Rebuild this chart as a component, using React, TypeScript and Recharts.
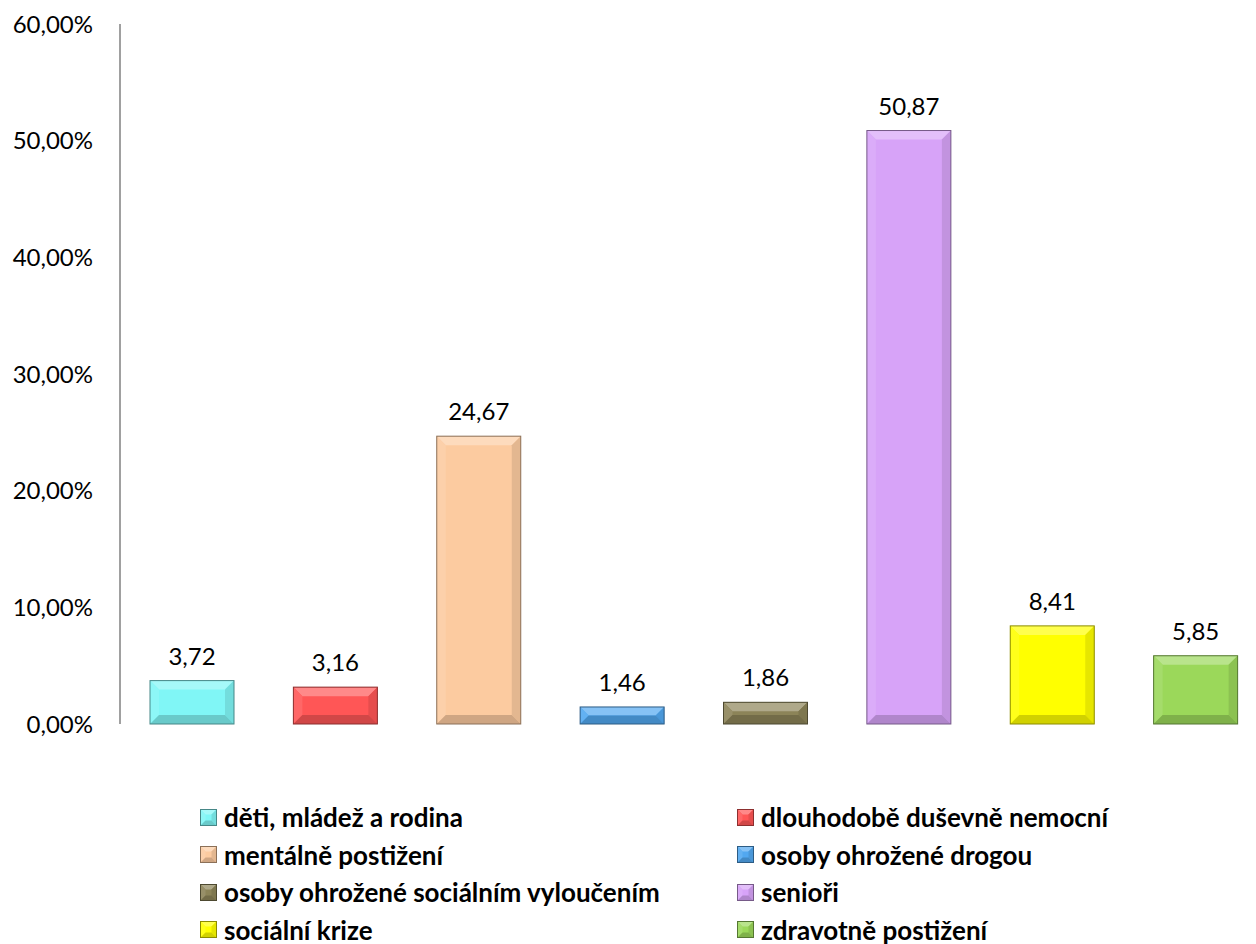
import React from 'react';
import { BarChart, Bar, XAxis, YAxis, Cell, LabelList, Legend } from 'recharts';

const categories = [
  'děti, mládež a rodina',
  'dlouhodobě duševně nemocní',
  'mentálně postižení',
  'osoby ohrožené drogou',
  'osoby ohrožené sociálním vyloučením',
  'senioři',
  'sociální krize',
  'zdravotně postižení',
];
const values = [3.72, 3.16, 24.67, 1.46, 1.86, 50.87, 8.41, 5.85];
const colors = ['#80f6f6', '#ff5656', '#fccba0', '#52a8f0', '#8c8458', '#d7a3f8', '#ffff00', '#9bd85a'];
const yTicks = [0, 10, 20, 30, 40, 50, 60];

const data = categories.map((name, i) => ({ name, value: values[i], color: colors[i] }));

const FONT = 'Lato, "Open Sans", sans-serif';

function shade(hex: string, amt: number) {
  const n = parseInt(hex.slice(1), 16);
  const r = (n >> 16) & 255, g = (n >> 8) & 255, b = n & 255;
  const f = (c: number) => {
    const v = amt >= 0 ? c + (255 - c) * amt : c * (1 + amt);
    return Math.max(0, Math.min(255, Math.round(v)));
  };
  return `rgb(${f(r)},${f(g)},${f(b)})`;
}

const Bevel = ({ x, y, w, h, color, bv }: any) => {
  const b = Math.min(bv, h / 2, w / 2);
  return (
    <g>
      <rect x={x} y={y} width={w} height={h} fill={color} />
      <polygon points={`${x},${y} ${x + w},${y} ${x + w - b},${y + b} ${x + b},${y + b}`} fill={shade(color, 0.3)} />
      <polygon points={`${x},${y} ${x + b},${y + b} ${x + b},${y + h - b} ${x},${y + h}`} fill={shade(color, 0.1)} />
      <polygon points={`${x + w},${y} ${x + w},${y + h} ${x + w - b},${y + h - b} ${x + w - b},${y + b}`} fill={shade(color, -0.1)} />
      <polygon points={`${x},${y + h} ${x + w},${y + h} ${x + w - b},${y + h - b} ${x + b},${y + h - b}`} fill={shade(color, -0.18)} />
      <rect x={x} y={y} width={w} height={h} fill="none" stroke={shade(color, -0.45)} strokeWidth={1} />
    </g>
  );
};

const BarShape = (props: any) => {
  const { x, y, width, height, payload } = props;
  if (height <= 0) return null;
  return <Bevel x={x} y={y} w={width} h={height} color={payload.color} bv={9} />;
};

const LegendContent = () => (
  <div style={{ position: 'relative', width: 1256, height: 220, fontFamily: FONT, fontWeight: 700, fontSize: 26, color: '#000' }}>
    {categories.map((c, i) => {
      const col = i % 2;
      const row = Math.floor(i / 2);
      const left = col === 0 ? 200 : 737;
      const top = 93 + row * 37.5;
      return (
        <div key={c} style={{ position: 'absolute', left, top: top - 15, height: 30, lineHeight: '30px', display: 'flex', alignItems: 'center', whiteSpace: 'nowrap' }}>
          <svg width={17} height={17} style={{ marginRight: 7, flex: 'none' }}>
            <Bevel x={0.5} y={0.5} w={16} h={16} color={colors[i]} bv={5} />
          </svg>
          <span>{c}</span>
        </div>
      );
    })}
  </div>
);

const fmt = (v: any) => Number(v).toFixed(2).replace('.', ',');

export default function App() {
  return (
    <div style={{ position: 'absolute', left: 0, top: 0, width: 1256, height: 944, background: '#fff', overflow: 'hidden' }}>
      <BarChart width={1267} height={944} data={data} margin={{ top: 24, right: 0, left: 0, bottom: 0 }}>
        <YAxis
          width={120}
          domain={[0, 60]}
          ticks={yTicks}
          interval={0}
          tickFormatter={(v: number) => `${v.toFixed(2).replace('.', ',')}%`}
          tick={{ fill: '#000', fontSize: 24, fontFamily: FONT }}
          tickLine={false}
          tickSize={0}
          tickMargin={27}
          axisLine={{ stroke: '#a0a0a0', strokeWidth: 2 }}
        />
        <XAxis dataKey="name" height={0} tick={false} tickLine={false} axisLine={{ stroke: '#a0a0a0', strokeWidth: 2 }} />
        <Legend verticalAlign="bottom" content={<LegendContent />} wrapperStyle={{ left: 0, width: 1256, height: 220 }} />
        <Bar dataKey="value" barSize={84} shape={<BarShape />} isAnimationActive={false}>
          {data.map((d) => (
            <Cell key={d.name} fill={d.color} />
          ))}
          <LabelList dataKey="value" position="top" offset={16} formatter={fmt} style={{ fill: '#000', fontSize: 24, fontFamily: FONT }} />
        </Bar>
      </BarChart>
    </div>
  );
}
